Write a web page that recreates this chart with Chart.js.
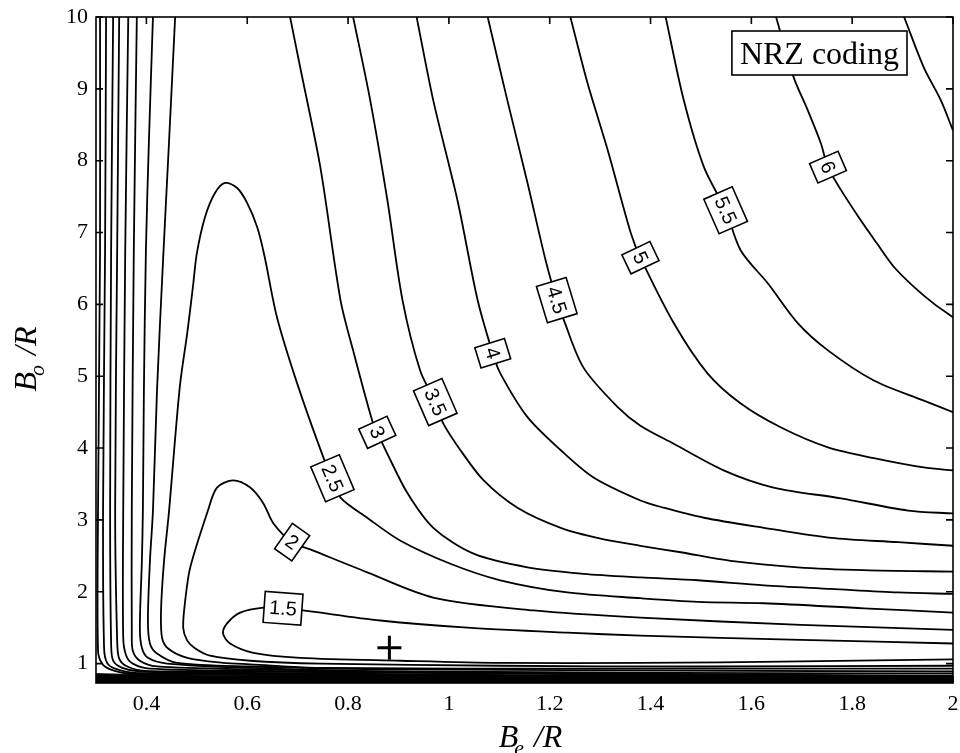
<!DOCTYPE html>
<html>
<head>
<meta charset="utf-8">
<script src="https://cdn.jsdelivr.net/npm/chart.js@4.4.1/dist/chart.umd.min.js"></script>
<style>
  html, body { margin: 0; padding: 0; background: #fff; }
</style>
</head>
<body>
<canvas id="chart" width="960" height="753"></canvas>
<script>
// axis ticks
const xTicks = [0.4, 0.6, 0.8, 1, 1.2, 1.4, 1.6, 1.8, 2];
const yTicks = [1, 2, 3, 4, 5, 6, 7, 8, 9, 10];

// contour lines, [Be/R, Bo/R]
const c15 = [[2.0,1.28],[1.698,1.33],[1.380,1.39],[1.235,1.43],[1.037,1.50],[0.864,1.60],[0.711,1.74],[0.671,1.77],[0.632,1.78],[0.586,1.71],[0.560,1.56],[0.552,1.42],[0.566,1.28],[0.612,1.15],[0.705,1.08],[0.904,1.04],[1.102,1.01],[1.380,1.01],[1.698,1.03],[2.0,1.06]];
const c2 = [[2.0,1.47],[1.698,1.54],[1.380,1.64],[1.168,1.74],[0.969,1.92],[0.838,2.27],[0.725,2.59],[0.689,2.69],[0.652,2.95],[0.632,3.23],[0.606,3.45],[0.572,3.55],[0.540,3.45],[0.522,3.13],[0.487,2.34],[0.477,1.88],[0.473,1.50],[0.481,1.32],[0.497,1.21],[0.526,1.11],[0.606,1.04],[0.745,1.00],[1.102,0.97],[1.500,0.96],[2.0,0.97]];
const c25 = [[2.0,1.71],[1.823,1.77],[1.625,1.84],[1.494,1.86],[1.380,1.91],[1.235,1.99],[1.102,2.16],[1.003,2.39],[0.904,2.71],[0.838,3.03],[0.785,3.31],[0.769,3.58],[0.751,3.87],[0.699,4.90],[0.659,5.82],[0.634,6.68],[0.620,7.07],[0.600,7.41],[0.580,7.62],[0.556,7.69],[0.536,7.55],[0.516,7.21],[0.500,6.71],[0.493,6.29],[0.481,5.60],[0.467,4.90],[0.455,3.97],[0.445,3.13],[0.435,2.43],[0.429,1.74],[0.431,1.36],[0.443,1.21],[0.481,1.08],[0.552,1.01],[0.606,0.99],[0.745,0.94],[1.301,0.93],[2.0,0.93]];
const c3Right = [[0.685,10],[0.705,9.30],[0.745,7.91],[0.785,6.06],[0.810,5.36],[0.848,4.38],[0.858,4.22],[0.878,3.92],[0.918,3.37],[0.969,2.89],[1.049,2.53],[1.156,2.34],[1.267,2.25],[1.380,2.20],[1.494,2.16],[1.625,2.09],[1.758,2.04],[1.891,1.99],[2.0,1.97]];
const c3Left = [[0.457,10],[0.445,8.28],[0.433,6.61],[0.421,4.80],[0.413,3.13],[0.407,2.43],[0.403,1.60],[0.407,1.28],[0.421,1.14],[0.461,1.01],[0.606,0.96],[0.904,0.92],[2.0,0.89]];
const c35Right = [[0.810,10],[0.844,8.84],[0.878,7.45],[0.908,6.06],[0.943,5.08],[0.973,4.64],[0.989,4.34],[1.023,3.97],[1.069,3.55],[1.136,3.17],[1.222,2.89],[1.301,2.74],[1.380,2.64],[1.460,2.55],[1.559,2.43],[1.692,2.34],[1.823,2.30],[2.0,2.28]];
const c35Left = [[0.413,10],[0.405,8.28],[0.399,6.75],[0.395,4.80],[0.393,3.13],[0.391,2.43],[0.387,1.50],[0.391,1.22],[0.403,1.08],[0.441,1.00],[0.606,0.94],[0.904,0.89],[2.0,0.86]];
const c4Right = [[0.936,10],[0.969,8.84],[1.017,7.45],[1.057,6.06],[1.087,5.32],[1.102,5.04],[1.156,4.43],[1.222,3.97],[1.287,3.59],[1.380,3.27],[1.426,3.17],[1.506,3.03],[1.625,2.89],[1.758,2.75],[1.891,2.69],[2.0,2.64]];
const c4Left = [[0.381,10],[0.375,6.75],[0.371,3.13],[0.371,1.42],[0.373,1.18],[0.387,1.04],[0.421,0.96],[0.606,0.92],[1.102,0.87],[2.0,0.83]];
const c45Right = [[1.077,10],[1.116,8.84],[1.156,7.69],[1.192,6.61],[1.214,6.06],[1.228,5.78],[1.267,5.12],[1.335,4.57],[1.380,4.31],[1.446,4.06],[1.545,3.69],[1.644,3.45],[1.778,3.30],[1.911,3.13],[2.0,3.09]];
const c45Left = [[0.364,10],[0.358,6.75],[0.354,3.13],[0.354,1.36],[0.360,1.11],[0.373,1.00],[0.407,0.93],[0.606,0.90],[2.0,0.82]];
const c5Right = [[1.241,10],[1.275,9.08],[1.315,8.15],[1.361,6.99],[1.380,6.65],[1.446,5.74],[1.513,5.04],[1.579,4.62],[1.658,4.29],[1.752,4.01],[1.843,3.86],[1.942,3.73],[2.0,3.69]];
const c5Left = [[0.346,10],[0.342,6.75],[0.338,3.13],[0.342,1.32],[0.346,1.07],[0.362,0.96],[0.397,0.90],[0.606,0.89],[2.0,0.81]];
const c55Right = [[1.430,10],[1.466,8.84],[1.506,7.91],[1.549,7.31],[1.579,6.75],[1.633,6.29],[1.692,5.74],[1.752,5.36],[1.843,4.94],[1.942,4.66],[2.0,4.50]];
const c55Left = [[0.334,10],[0.330,6.75],[0.328,3.13],[0.330,1.28],[0.334,1.04],[0.352,0.94],[0.387,0.89],[0.606,0.87],[2.0,0.79]];
const c6Right = [[1.649,10],[1.684,9.16],[1.712,8.70],[1.738,8.24],[1.752,7.91],[1.778,7.59],[1.817,7.17],[1.849,6.85],[1.883,6.52],[1.923,6.24],[1.962,6.01],[2.0,5.82]];
const c6Left = [[0.320,10],[0.318,6.75],[0.314,3.13],[0.316,1.22],[0.322,1.01],[0.338,0.93],[0.377,0.87],[0.606,0.86],[2.0,0.78]];
const c65Right = [[1.903,10],[1.942,9.30],[1.976,8.84],[2.0,8.42]];
const c65Left = [[0.308,10],[0.308,6.75],[0.304,3.13],[0.304,1.18],[0.312,1.00],[0.328,0.92],[0.368,0.86],[0.606,0.85],[2.0,0.76]];

// the packed contours along the bottom edge merge into a solid band
const bottomBand = [[0.3,0.86],[0.4,0.845],[0.6,0.835],[2.0,0.83]];

// inline contour labels
const labelText = ['1.5', '2', '2.5', '3', '3.5', '4', '4.5', '5', '5.5', '6'];
const labelX = [0.671, 0.689, 0.769, 0.858, 0.973, 1.087, 1.214, 1.380, 1.549, 1.752];
const labelY = [1.77, 2.69, 3.58, 4.22, 4.64, 5.32, 6.06, 6.65, 7.31, 7.91];

// design point
const marker = [[0.882, 1.22]];

const contourLines = [c15, c2, c25, c3Right, c3Left, c35Right, c35Left, c4Right, c4Left,
  c45Right, c45Left, c5Right, c5Left, c55Right, c55Left, c6Right, c6Left, c65Right, c65Left];

const toXY = arr => arr.map(([x, y]) => ({ x, y }));

const datasets = [{
  data: toXY(bottomBand),
  showLine: true,
  fill: 'start',
  backgroundColor: '#000',
  borderColor: '#000',
  borderWidth: 1,
  pointRadius: 0
}];
contourLines.forEach(line => {
  datasets.push({
    data: toXY(line),
    contour: true,
    showLine: true,
    fill: false,
    borderColor: '#000',
    borderWidth: 1.8,
    pointRadius: 0,
    tension: 0.3
  });
});
datasets.push({
  data: toXY(marker),
  showLine: false,
  pointStyle: 'cross',
  pointRadius: 12,
  borderWidth: 3,
  borderColor: '#000'
});

const serif = '"Liberation Serif", "Times New Roman", serif';

// direction of the contour under a label, in pixels
function lineAngle(chart, px, py) {
  let best = null, bestD = Infinity;
  chart.data.datasets.forEach((ds, i) => {
    if (!ds.contour) return;
    const pts = chart.getDatasetMeta(i).data;
    pts.forEach((p, k) => {
      const d = (p.x - px) ** 2 + (p.y - py) ** 2;
      if (d < bestD) { bestD = d; best = { pts, k }; }
    });
  });
  if (!best) return 0;
  const { pts, k } = best;
  const a = pts[Math.max(k - 1, 0)], b = pts[Math.min(k + 1, pts.length - 1)];
  let ang = Math.atan2(b.y - a.y, b.x - a.x);
  if (ang > Math.PI / 2) ang -= Math.PI;
  if (ang < -Math.PI / 2) ang += Math.PI;
  return ang;
}

const contourLabels = {
  id: 'contourLabels',
  afterDatasetsDraw(chart) {
    const { ctx, scales: { x, y } } = chart;
    ctx.save();
    ctx.font = '20px "Liberation Sans", Arial, sans-serif';
    labelText.forEach((t, i) => {
      const px = x.getPixelForValue(labelX[i]);
      const py = y.getPixelForValue(labelY[i]);
      const ang = lineAngle(chart, px, py);
      const w = ctx.measureText(t).width + 10, h = 31;
      ctx.save();
      ctx.translate(px, py);
      ctx.rotate(ang);
      ctx.fillStyle = '#fff';
      ctx.fillRect(-w / 2, -h / 2, w, h);
      ctx.strokeStyle = '#000';
      ctx.lineWidth = 1.6;
      ctx.strokeRect(-w / 2, -h / 2, w, h);
      ctx.fillStyle = '#000';
      ctx.textAlign = 'center';
      ctx.textBaseline = 'middle';
      ctx.fillText(t, 0, 1);
      ctx.restore();
    });
    ctx.restore();
  }
};

// box, inward ticks, legend box and axis titles
const frame = {
  id: 'frame',
  afterDraw(chart) {
    const { ctx, chartArea: { left, right, top, bottom }, scales: { x, y } } = chart;
    ctx.save();
    ctx.strokeStyle = '#000';
    ctx.lineWidth = 1.6;
    ctx.strokeRect(left, top, right - left, bottom - top);
    const L = 7;
    ctx.beginPath();
    x.ticks.forEach(t => {
      const p = x.getPixelForValue(t.value);
      ctx.moveTo(p, bottom); ctx.lineTo(p, bottom - L);
      ctx.moveTo(p, top); ctx.lineTo(p, top + L);
    });
    y.ticks.forEach(t => {
      const p = y.getPixelForValue(t.value);
      ctx.moveTo(left, p); ctx.lineTo(left + L, p);
      ctx.moveTo(right, p); ctx.lineTo(right - L, p);
    });
    ctx.stroke();

    // "NRZ coding" box
    ctx.font = '32px ' + serif;
    const title = 'NRZ coding';
    const tw = ctx.measureText(title).width;
    const bw = tw + 16, bh = 44;
    const bx = right - 46 - bw, by = top + 14;
    ctx.fillStyle = '#fff';
    ctx.fillRect(bx, by, bw, bh);
    ctx.strokeRect(bx, by, bw, bh);
    ctx.fillStyle = '#000';
    ctx.textAlign = 'left';
    ctx.textBaseline = 'alphabetic';
    ctx.fillText(title, bx + 8, by + 33);

    // axis titles with subscripts
    const drawTitle = (cx, base, sub) => {
      ctx.font = 'italic 32px ' + serif;
      const wB = ctx.measureText('B').width;
      const wR = ctx.measureText('/R').width;
      ctx.font = 'italic 22px ' + serif;
      const wS = ctx.measureText(sub).width;
      const start = cx - (wB + wS + 4 + wR) / 2;
      ctx.font = 'italic 32px ' + serif;
      ctx.fillText('B', start, base);
      ctx.font = 'italic 22px ' + serif;
      ctx.fillText(sub, start + wB - 4, base + 8);
      ctx.font = 'italic 32px ' + serif;
      ctx.fillText('/R', start + wB + wS + 6, base);
    };
    ctx.textAlign = 'left';
    drawTitle((left + right) / 2 + 5, 747, 'e');
    ctx.save();
    ctx.translate(36, (top + bottom) / 2 + 10);
    ctx.rotate(-Math.PI / 2);
    drawTitle(0, 0, 'o');
    ctx.restore();
    ctx.restore();
  }
};

const fmt = v => String(Number(Number(v).toFixed(1)));

new Chart(document.getElementById('chart'), {
  type: 'scatter',
  data: { datasets },
  options: {
    responsive: false,
    devicePixelRatio: 1,
    animation: false,
    layout: { autoPadding: false, padding: { top: 17, right: 7, left: 0, bottom: 0 } },
    plugins: { legend: { display: false }, tooltip: { enabled: false } },
    scales: {
      x: {
        type: 'linear',
        min: 0.3,
        max: 2,
        afterBuildTicks: s => { s.ticks = xTicks.map(v => ({ value: v })); },
        afterFit: s => { s.height = 70; s.paddingLeft = 0; s.paddingRight = 0; },
        grid: { display: false, drawTicks: false },
        border: { display: false },
        ticks: { color: '#000', padding: 8, font: { family: serif, size: 22 }, callback: fmt, maxRotation: 0, autoSkip: false }
      },
      y: {
        type: 'linear',
        min: 0.73,
        max: 10,
        afterBuildTicks: s => { s.ticks = yTicks.map(v => ({ value: v })); },
        afterFit: s => { s.width = 96; s.paddingTop = 0; s.paddingBottom = 0; },
        grid: { display: false, drawTicks: false },
        border: { display: false },
        ticks: { color: '#000', padding: 8, font: { family: serif, size: 22 }, callback: fmt, autoSkip: false }
      }
    }
  },
  plugins: [contourLabels, frame]
});
</script>
</body>
</html>
